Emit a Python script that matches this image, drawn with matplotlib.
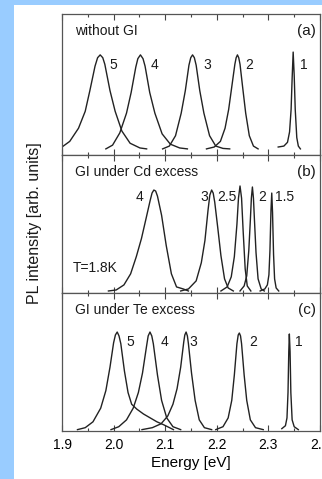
import matplotlib.pyplot as plt
from matplotlib.patches import Rectangle
from matplotlib.ticker import MultipleLocator

plt.rcParams['font.family'] = ['Liberation Sans', 'DejaVu Sans']

# panel (a): without GI  -- energies (eV) and normalised PL intensity
a5_e = [1.900, 1.915, 1.932, 1.945, 1.954, 1.964, 1.969, 1.974, 1.979, 1.983, 1.993, 2.003, 2.016, 2.032, 2.051, 2.064]
a5_i = [0.02, 0.08, 0.22, 0.40, 0.62, 0.88, 0.97, 1.00, 0.97, 0.90, 0.62, 0.40, 0.19, 0.06, 0.01, 0.0]
a4_e = [1.985, 1.998, 2.012, 2.025, 2.034, 2.043, 2.047, 2.052, 2.057, 2.061, 2.070, 2.080, 2.094, 2.110, 2.128, 2.143]
a4_i = [0.0, 0.04, 0.17, 0.38, 0.60, 0.87, 0.96, 1.00, 0.96, 0.88, 0.60, 0.38, 0.16, 0.05, 0.01, 0.0]
a3_e = [2.095, 2.108, 2.120, 2.131, 2.139, 2.146, 2.1495, 2.153, 2.1565, 2.160, 2.167, 2.175, 2.186, 2.198, 2.212, 2.225]
a3_i = [0.0, 0.03, 0.14, 0.38, 0.62, 0.89, 0.97, 1.00, 0.97, 0.89, 0.62, 0.38, 0.14, 0.03, 0.005, 0.0]
a2_e = [2.180, 2.195, 2.207, 2.216, 2.223, 2.230, 2.235, 2.2375, 2.240, 2.2425, 2.245, 2.250, 2.256, 2.263, 2.271, 2.280]
a2_i = [0.0, 0.02, 0.08, 0.22, 0.42, 0.70, 0.90, 0.97, 1.00, 0.97, 0.90, 0.66, 0.38, 0.14, 0.03, 0.0]
a1_e = [2.319, 2.330, 2.337, 2.341, 2.344, 2.346, 2.348, 2.350, 2.352, 2.355, 2.358, 2.362]
a1_i = [0.02, 0.03, 0.07, 0.18, 0.42, 0.75, 1.03, 0.78, 0.42, 0.12, 0.03, 0.0]

# panel (b): GI under Cd excess
b4_e = [1.990, 2.005, 2.020, 2.033, 2.044, 2.054, 2.063, 2.071, 2.0745, 2.078, 2.0815, 2.085, 2.093, 2.102, 2.112, 2.122, 2.135, 2.145]
b4_i = [0.0, 0.01, 0.06, 0.17, 0.34, 0.52, 0.72, 0.90, 0.97, 1.00, 0.99, 0.94, 0.75, 0.45, 0.17, 0.04, 0.02, 0.0]
b3_e = [2.130, 2.145, 2.160, 2.170, 2.177, 2.183, 2.1865, 2.190, 2.193, 2.196, 2.202, 2.208, 2.215, 2.222, 2.232]
b3_i = [0.0, 0.02, 0.10, 0.28, 0.50, 0.80, 0.95, 1.00, 0.97, 0.88, 0.62, 0.35, 0.12, 0.03, 0.0]
b25_e = [2.208, 2.220, 2.228, 2.234, 2.239, 2.242, 2.245, 2.248, 2.251, 2.255, 2.259, 2.266]
b25_i = [0.0, 0.04, 0.14, 0.34, 0.66, 0.92, 1.04, 0.92, 0.60, 0.22, 0.05, 0.0]
b2_e = [2.245, 2.253, 2.258, 2.262, 2.265, 2.267, 2.269, 2.271, 2.273, 2.276, 2.280, 2.286, 2.292]
b2_i = [0.0, 0.05, 0.15, 0.40, 0.70, 0.92, 1.03, 0.92, 0.70, 0.38, 0.12, 0.02, 0.0]
b15_e = [2.284, 2.293, 2.298, 2.301, 2.303, 2.305, 2.3065, 2.308, 2.310, 2.312, 2.315, 2.320]
b15_i = [0.0, 0.02, 0.06, 0.16, 0.40, 0.80, 0.97, 0.78, 0.36, 0.12, 0.03, 0.0]

# panel (c): GI under Te excess
c5_e = [1.930, 1.945, 1.960, 1.975, 1.985, 1.993, 2.000, 2.0035, 2.007, 2.0105, 2.014, 2.021, 2.028,
        2.035, 2.045, 2.058, 2.071, 2.084, 2.097, 2.116]
c5_i = [0.0, 0.02, 0.08, 0.22, 0.40, 0.64, 0.89, 0.97, 1.00, 0.96, 0.88, 0.60, 0.38,
        0.26, 0.21, 0.16, 0.12, 0.08, 0.05, 0.0]
c4_e = [1.995, 2.010, 2.025, 2.038, 2.048, 2.056, 2.064, 2.067, 2.0705, 2.074, 2.077, 2.085, 2.093, 2.103, 2.115, 2.130]
c4_i = [0.0, 0.03, 0.10, 0.22, 0.38, 0.58, 0.86, 0.96, 1.00, 0.96, 0.88, 0.56, 0.30, 0.12, 0.03, 0.0]
c3_e = [2.055, 2.075, 2.092, 2.105, 2.115, 2.123, 2.130, 2.136, 2.138, 2.1405, 2.143, 2.145, 2.151, 2.158, 2.166, 2.176, 2.190]
c3_i = [0.0, 0.02, 0.06, 0.14, 0.26, 0.42, 0.64, 0.90, 0.97, 1.00, 0.96, 0.88, 0.58, 0.30, 0.10, 0.02, 0.0]
c2_e = [2.198, 2.212, 2.222, 2.229, 2.234, 2.239, 2.2415, 2.2437, 2.246, 2.248, 2.253, 2.258, 2.265, 2.275, 2.290]
c2_i = [0.0, 0.03, 0.12, 0.30, 0.56, 0.88, 0.97, 0.99, 0.96, 0.88, 0.56, 0.30, 0.10, 0.02, 0.0]
c1_e = [2.326, 2.333, 2.336, 2.338, 2.3395, 2.3406, 2.342, 2.3435, 2.346, 2.350, 2.358]
c1_i = [0.01, 0.04, 0.12, 0.38, 0.80, 0.98, 0.80, 0.38, 0.10, 0.03, 0.0]

# peak labels: (text, energy, intensity)
a_labels = [("5", 1.999, 0.89), ("4", 2.080, 0.89), ("3", 2.181, 0.89), ("2", 2.262, 0.89), ("1", 2.368, 0.89)]
b_labels = [("4", 2.051, 0.93), ("3", 2.175, 0.93), ("2.5", 2.219, 0.93), ("2", 2.287, 0.93), ("1.5", 2.332, 0.93)]
c_labels = [("5", 2.033, 0.90), ("4", 2.098, 0.90), ("3", 2.154, 0.90), ("2", 2.270, 0.90), ("1", 2.359, 0.90)]

W, H = 322, 479
fig = plt.figure(figsize=(W / 100, H / 100), dpi=100, facecolor='#99ccff')
fig.patches.append(Rectangle((14 / W, 0), 1, 1 - 5 / H, transform=fig.transFigure,
                             facecolor='white', edgecolor='none', zorder=-10))

left, width = 62 / W, 258 / W
panels = [
    ((14, 155), [(a5_e, a5_i), (a4_e, a4_i), (a3_e, a3_i), (a2_e, a2_i), (a1_e, a1_i)],
     a_labels, "without GI", "(a)", (-0.065, 1.435)),
    ((155, 293), [(b4_e, b4_i), (b3_e, b3_i), (b25_e, b25_i), (b2_e, b2_i), (b15_e, b15_i)],
     b_labels, "GI under Cd excess", "(b)", (-0.02, 1.347)),
    ((293, 431), [(c5_e, c5_i), (c4_e, c4_i), (c3_e, c3_i), (c2_e, c2_i), (c1_e, c1_i)],
     c_labels, "GI under Te excess", "(c)", (-0.014, 1.40)),
]

axes = []
for (top, bot), curves, labels, title, tag, ylim in panels:
    ax = fig.add_axes([left, 1 - bot / H, width, (bot - top) / H])
    ax.set_zorder(1)
    for e, i in curves:
        ax.plot(e, i, color='#222222', lw=1.0, solid_joinstyle='round')
    for txt, x, y in labels:
        ax.text(x, y, txt, fontsize=10, ha='center', va='center', color='#1a1a1a')
    ax.text(0.05, 0.88, title, transform=ax.transAxes, fontsize=10, va='center', color='#1a1a1a')
    ax.text(0.985, 0.88, tag, transform=ax.transAxes, fontsize=11, ha='right', va='center', color='#1a1a1a')
    ax.set_xlim(1.9, 2.4)
    ax.set_ylim(*ylim)
    ax.set_yticks([])
    ax.xaxis.set_major_locator(MultipleLocator(0.1))
    ax.xaxis.set_minor_locator(MultipleLocator(0.05))
    ax.tick_params(axis='x', which='both', direction='in', top=True, bottom=True,
                   color='#444444', labelbottom=False)
    ax.tick_params(axis='x', which='major', length=4, width=0.8)
    ax.tick_params(axis='x', which='minor', length=2.5, width=0.8)
    for s in ax.spines.values():
        s.set_color('#555555')
        s.set_linewidth(0.9)
    axes.append(ax)

axes[1].text(0.04, 0.18, "T=1.8K", transform=axes[1].transAxes, fontsize=10, va='center', color='#1a1a1a')

axes[2].tick_params(axis='x', labelbottom=True, labelsize=10, pad=5)
axes[2].set_xticks([1.9, 2.0, 2.1, 2.2, 2.3, 2.4])
axes[2].set_xticklabels(["1.9", "2.0", "2.1", "2.2", "2.3", "2.4"])
axes[2].set_xlabel("Energy [eV]", fontsize=11, labelpad=3)

fig.text(35 / W, 1 - 223 / H, "PL intensity [arb. units]", rotation=90, fontsize=11.5,
         ha='center', va='center', color='#1a1a1a')

fig.savefig("out.png", dpi=100, facecolor=fig.get_facecolor())
